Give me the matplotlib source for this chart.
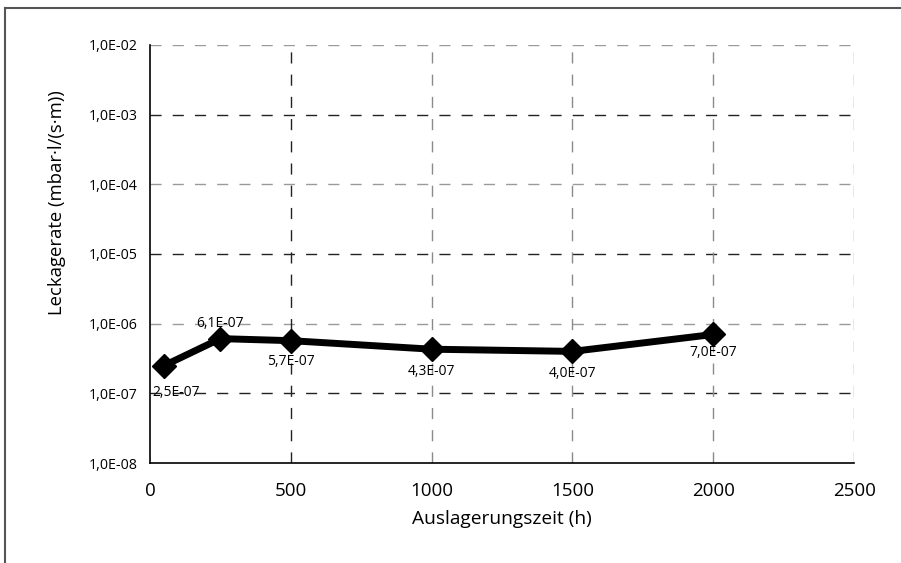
import matplotlib
matplotlib.use('Agg')
import matplotlib.pyplot as plt
from matplotlib.lines import Line2D

plt.rcParams['font.family'] = ['Open Sans', 'DejaVu Sans']

# Auslagerungszeit in h und gemessene Leckagerate
zeit = [50, 250, 500, 1000, 1500, 2000]
leckrate = [2.5e-7, 6.1e-7, 5.7e-7, 4.3e-7, 4.0e-7, 7.0e-7]
wert_labels = ['2,5E-07', '6,1E-07', '5,7E-07', '4,3E-07', '4,0E-07', '7,0E-07']
label_offsets = [(9, -19), (0, 11), (0, -15), (0, -16), (0, -16), (0, -13)]

y_ticks = [1e-8, 1e-7, 1e-6, 1e-5, 1e-4, 1e-3, 1e-2]
y_ticklabels = ['1,0E-08', '1,0E-07', '1,0E-06', '1,0E-05', '1,0E-04', '1,0E-03', '1,0E-02']
x_ticks = [0, 500, 1000, 1500, 2000, 2500]

fig = plt.figure(figsize=(9.01, 5.63), dpi=100)
ax = fig.add_axes([0.1665, 0.1776, 0.7815, 0.7425])

ax.set_yscale('log')
ax.set_ylim(1e-8, 1e-2)
ax.set_xlim(0, 2500)

# gestricheltes Gitter
dash = (0, (8, 8))
for i, yt in enumerate(y_ticks[1:]):
    col = '#222222' if i % 2 == 0 else '#9a9a9a'
    ax.axhline(yt, color=col, lw=1, linestyle=dash, zorder=1)
for xt in x_ticks[1:]:
    col = '#222222' if xt == 500 else '#8a8a8a'
    ax.axvline(xt, color=col, lw=1, linestyle=dash, zorder=1)

ax.plot(zeit, leckrate, color='black', lw=5, marker='D', markersize=12,
        zorder=3, solid_joinstyle='miter')

for x, y, txt, off in zip(zeit, leckrate, wert_labels, label_offsets):
    ax.annotate(txt, (x, y), xytext=off, textcoords='offset points',
                ha='center', va='center', fontsize=10, zorder=4)

ax.set_yticks(y_ticks)
ax.set_yticklabels(y_ticklabels, fontsize=10.3)
ax.yaxis.set_minor_locator(matplotlib.ticker.NullLocator())
ax.set_xticks(x_ticks)
ax.set_xticklabels([str(v) for v in x_ticks], fontsize=13.5)
ax.tick_params(axis='both', length=0)
ax.tick_params(axis='y', pad=9)
ax.tick_params(axis='x', pad=14)

for side in ['top', 'right']:
    ax.spines[side].set_visible(False)
for side in ['left', 'bottom']:
    ax.spines[side].set_color('black')
    ax.spines[side].set_linewidth(1.2)

ax.set_xlabel('Auslagerungszeit (h)', fontsize=13.8, labelpad=7)
ax.set_ylabel('Leckagerate (mbar\u00b7l/(s\u00b7m))', fontsize=13.3)
ax.yaxis.set_label_coords(-0.12, 0.622)

# Rahmen oben und links
fig.add_artist(Line2D([5 / 901, 1], [1 - 8 / 563, 1 - 8 / 563], color='#555555', lw=1.5))
fig.add_artist(Line2D([5 / 901, 5 / 901], [0, 1 - 8 / 563], color='#555555', lw=1.5))

fig.savefig('out.png', dpi=100)
